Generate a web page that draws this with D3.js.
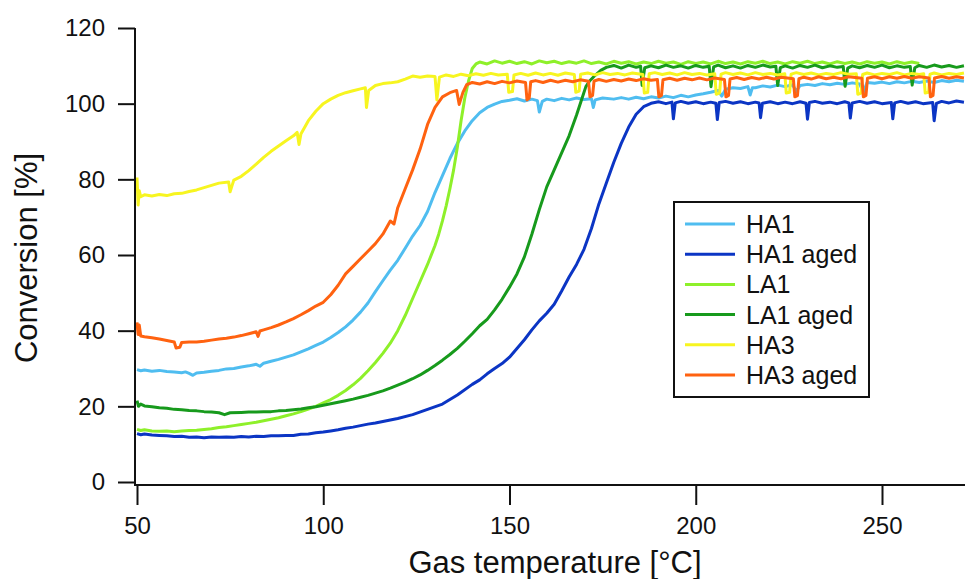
<!DOCTYPE html>
<html>
<head>
<meta charset="utf-8">
<script src="https://cdn.jsdelivr.net/npm/d3@7"></script>
<style>
  html, body { margin: 0; padding: 0; background: #fff; }
  svg { display: block; }
  text { font-family: "Liberation Sans", Arial, Helvetica, sans-serif; fill: #111; }
</style>
</head>
<body>
<svg id="chart" width="965" height="579"></svg>
<script>
// ---------------- data (temperature °C, conversion %) ----------------
const seriesNames = ["HA1", "HA1 aged", "LA1", "LA1 aged", "HA3", "HA3 aged"];
const seriesColors = ["#4fbdf0", "#0b35c4", "#8ef02a", "#179a1c", "#f7f520", "#ff6210"];
const xTicks = [50, 100, 150, 200, 250];
const yTicks = [0, 20, 40, 60, 80, 100, 120];

const ha1 = [[50,29.7],[51,29.4],[52,29.6],[54,29.3],[56,29.5],[58,29.2],[60,29.1],[62,28.9],[63,29.1],[64,28.7],[65,28.2],[66,28.8],[68,29.0],[70,29.3],[72,29.5],[74,29.9],[76,30.0],[78,30.4],[80,30.7],[82,31.1],[83,30.6],[84,31.4],[86,31.9],[88,32.4],[90,33.0],[92,33.6],[94,34.4],[96,35.2],[98,36.1],[100,37.0],[102,38.2],[104,39.5],[106,41.0],[108,42.8],[110,44.9],[112,47.3],[114,50.3],[116,53.2],[118,56.0],[120,58.6],[122,61.8],[124,65.0],[126,67.8],[128,71.5],[130,76.5],[132,81.0],[134,85.5],[136,89.5],[138,92.8],[140,95.5],[142,97.6],[144,99.0],[146,99.9],[148,100.6],[150,100.9],[152,101.3],[154,100.7],[156,101.2],[157.5,100.8],[158,97.8],[158.8,100.6],[160,101.2],[162,100.8],[164,101.4],[166,101.0],[168,101.5],[170,101.1],[172,101.3],[172.5,99.0],[173,101.0],[175,101.5],[178,101.2],[180,101.6],[182,101.2],[184,101.7],[186,101.3],[188,101.8],[190,101.5],[192,102.0],[194,101.6],[196,102.2],[198,101.8],[200,102.3],[202,102.6],[204,103.0],[206,103.5],[207,102.0],[208,103.8],[210,104.2],[212,104.0],[214,104.5],[214.6,102.3],[215.2,104.2],[216,104.2],[218,104.7],[220,104.4],[222,104.9],[224,104.5],[226,105.0],[227,103.2],[228,104.8],[230,105.1],[232,104.8],[234,105.3],[236,105.0],[238,105.4],[240,105.1],[242,105.5],[244,105.2],[245,103.0],[246,105.6],[248,105.4],[250,105.7],[252,105.3],[254,105.8],[256,105.5],[258,105.9],[260,105.6],[262,106.0],[264,105.6],[266,106.1],[268,105.8],[270,106.2],[272,105.9]];

const ha1Aged = [[50,12.8],[51,12.5],[52,12.7],[54,12.4],[56,12.3],[58,12.2],[60,12.0],[62,12.1],[64,11.8],[66,11.9],[68,11.7],[70,11.9],[72,11.8],[74,11.9],[76,11.8],[78,12.0],[80,11.9],[82,12.1],[84,12.0],[86,12.2],[88,12.2],[90,12.3],[92,12.3],[94,12.6],[96,12.7],[98,13.0],[100,13.2],[102,13.5],[104,13.8],[106,14.2],[108,14.5],[110,14.9],[112,15.3],[114,15.6],[116,16.0],[118,16.4],[120,16.8],[124,17.8],[128,19.2],[132,20.6],[136,23.0],[140,25.8],[142,27.0],[144,28.6],[146,30.0],[148,31.3],[150,33.0],[152,35.3],[154,37.6],[156,40.2],[158,42.6],[160,44.6],[162,47.0],[164,50.5],[166,54.2],[168,57.5],[170,61.5],[172,67.0],[174,73.5],[176,79.0],[178,84.5],[180,89.5],[182,93.8],[184,97.2],[186,99.2],[188,100.1],[190,100.5],[192,100.0],[193.6,100.4],[194.0,96.0],[194.5,100.2],[196,100.6],[198,100.1],[200,100.5],[202,100.0],[204,100.4],[205.4,100.1],[205.8,95.8],[206.3,100.3],[208,100.6],[210,100.1],[212,100.5],[214,100.0],[216,100.4],[217.0,100.2],[217.4,96.3],[217.9,100.1],[220,100.5],[222,100.0],[224,100.4],[226,100.0],[228,100.5],[229.6,100.1],[230.0,95.9],[230.5,100.3],[232,100.6],[234,100.1],[236,100.4],[238,100.0],[240,100.5],[241.1,100.2],[241.5,96.2],[242,100.2],[244,100.6],[246,100.1],[248,100.5],[250,100.0],[252.5,100.3],[252.9,96.0],[253.4,100.2],[255,100.6],[257,100.1],[259,100.5],[261,100.0],[263.6,100.3],[264.0,95.5],[264.6,100.1],[266,100.6],[268,100.2],[270,100.7],[272,100.4]];

const la1 = [[50,13.9],[51,13.6],[52,13.8],[54,13.5],[56,13.4],[58,13.5],[60,13.3],[62,13.5],[64,13.6],[66,13.7],[68,13.9],[70,14.1],[72,14.4],[74,14.6],[76,14.9],[78,15.2],[80,15.5],[82,15.8],[84,16.2],[86,16.6],[88,17.0],[90,17.5],[92,18.0],[94,18.6],[96,19.3],[98,20.0],[100,20.9],[102,21.8],[104,22.9],[106,24.2],[108,25.7],[110,27.4],[112,29.4],[114,31.6],[116,34.0],[118,36.7],[120,40.0],[122,44.0],[124,48.5],[126,53.0],[128,57.5],[130,62.5],[131,65.5],[132,69.0],[133,73.0],[134,77.5],[135,82.5],[136,88.5],[137,95.5],[138,101.5],[139,106.0],[140,109.3],[141,110.5],[142,111.0],[144,110.5],[146,111.3],[148,110.7],[150,111.2],[152,110.6],[154,111.1],[156,110.5],[158,111.3],[160,110.8],[162,111.2],[164,110.6],[166,111.1],[168,110.7],[170,111.3],[172,110.6],[174,111.0],[176,110.5],[178,111.2],[180,110.7],[182,111.1],[184,110.5],[186,111.0],[188,110.6],[190,111.2],[192,110.7],[194,111.0],[196,110.4],[198,111.1],[200,110.6],[202,111.0],[204,110.5],[206,111.2],[208,110.6],[210,111.0],[212,110.5],[214,111.1],[216,110.7],[218,111.2],[220,110.6],[222,111.0],[224,110.5],[226,111.1],[228,110.7],[230,111.2],[232,110.6],[234,111.0],[236,110.5],[238,111.1],[240,110.6],[242,111.0],[244,110.5],[246,111.1],[248,110.7],[250,111.0],[252,110.5],[254,111.1],[256,110.6],[258,111.0],[260,110.6]];

const la1Aged = [[50,21.5],[50.4,20.0],[51,20.6],[52,20.1],[54,19.9],[56,19.6],[58,19.5],[60,19.2],[62,19.1],[64,18.9],[66,18.8],[68,18.6],[70,18.5],[72,18.3],[73.5,17.8],[75,18.3],[78,18.4],[80,18.5],[82,18.5],[84,18.6],[86,18.6],[88,18.8],[90,18.9],[92,19.1],[94,19.3],[96,19.6],[98,19.9],[100,20.3],[102,20.7],[104,21.1],[106,21.5],[108,21.9],[110,22.4],[112,22.9],[114,23.5],[116,24.1],[118,24.8],[120,25.6],[122,26.4],[124,27.3],[126,28.3],[128,29.5],[130,30.8],[132,32.2],[134,33.7],[136,35.3],[138,37.2],[140,39.2],[142,41.3],[144,43.0],[146,45.5],[148,48.3],[150,51.5],[152,55.0],[154,59.5],[156,65.5],[158,72.0],[160,78.0],[162,82.5],[164,87.0],[166,91.5],[168,97.0],[169.5,101.5],[170.5,104.5],[171.5,106.0],[173,107.5],[174.5,108.8],[176,109.6],[178,110.1],[180,109.4],[182,110.2],[184,109.6],[185.2,109.9],[185.6,104.8],[186.3,109.5],[188,110.0],[190,109.5],[192,110.2],[194,109.6],[196,110.0],[198,109.4],[200,110.1],[202,109.6],[203.6,109.9],[204.1,104.5],[204.8,109.7],[206,110.2],[208,109.5],[210,110.0],[212,109.4],[214,110.1],[216,109.6],[218,110.2],[220,109.7],[221.5,109.9],[222,104.8],[222.7,109.5],[224,110.0],[226,109.4],[228,110.1],[230,109.6],[232,110.2],[234,109.5],[236,110.0],[238,109.6],[239.6,109.8],[240.1,104.6],[240.8,109.4],[242,110.0],[244,109.5],[246,110.1],[248,109.6],[250,110.2],[252,109.5],[254,110.0],[256,109.6],[257.6,109.8],[258.1,104.9],[258.8,109.5],[260,110.1],[262,109.6],[264,110.2],[266,109.7],[268,110.1],[270,109.6],[272,110.0]];

const ha3 = [[50,80.5],[50.3,73.2],[50.6,77.0],[51,75.4],[52,75.9],[54,75.6],[56,76.0],[58,75.7],[60,76.2],[62,76.3],[64,76.8],[66,77.2],[68,77.8],[70,78.4],[72,79.0],[74.6,79.3],[75,76.7],[75.6,78.6],[76,79.8],[78,80.8],[80,82.3],[82,84.0],[84,85.8],[86,87.4],[88,88.8],[90,90.2],[92,91.5],[93,92.4],[93.5,89.2],[94,92.0],[96,95.5],[98,98.0],[100,100.0],[102,101.2],[104,102.2],[106,102.9],[108,103.4],[110,103.9],[111.3,104.2],[111.6,99.0],[112.2,103.5],[114,104.8],[116,105.3],[118,105.5],[120,105.8],[122,106.5],[124,107.3],[126,107.0],[128,107.3],[130,107.2],[130.5,101.0],[131.2,107.0],[133,107.6],[135,107.2],[137,107.8],[139,107.4],[141,107.9],[143,107.5],[145,108.0],[147,107.6],[149.4,107.8],[149.8,103.0],[150.8,103.2],[151.2,107.6],[153,108.0],[155,107.5],[157,108.1],[159,107.6],[161,108.0],[163,107.5],[165,108.1],[167.4,107.7],[167.8,103.0],[168.7,103.3],[169.1,107.8],[171,108.1],[173,107.6],[175,108.2],[177,107.7],[179,108.0],[181,107.6],[183,108.1],[185.8,107.7],[186.2,102.8],[187.1,103.0],[187.5,107.9],[189,108.2],[191,107.7],[193,108.1],[195,107.6],[197,108.2],[199,107.7],[201,108.0],[203,107.6],[205.1,107.9],[205.5,102.5],[206.4,102.8],[206.8,107.8],[208,108.2],[210,107.7],[212,108.1],[214,107.6],[216,108.2],[218,107.7],[220,108.0],[222,107.6],[223.9,107.9],[224.3,102.8],[225.2,103.0],[225.6,107.8],[227,108.2],[229,107.7],[231,108.1],[233,107.6],[235,108.0],[237,107.7],[239,108.2],[241,107.8],[243.1,107.9],[243.5,102.5],[244.4,102.8],[244.8,107.7],[246,108.1],[248,107.6],[250,108.0],[252,107.7],[254,108.2],[256,107.6],[258,108.0],[260,107.7],[261.2,107.9],[261.6,102.8],[262.5,103.0],[262.9,107.8],[264,108.1],[266,107.6],[268,108.0],[270,107.7],[272,108.1]];

const ha3Aged = [[50,42.2],[50.3,39.0],[50.6,41.5],[51,38.6],[52,38.4],[54,38.1],[56,37.8],[58,37.4],[60,37.0],[60.5,35.4],[61.5,35.6],[62,36.9],[64,37.0],[66,37.0],[68,37.2],[70,37.5],[72,37.8],[74,38.0],[76,38.3],[78,38.7],[80,39.2],[82,39.7],[82.5,38.5],[83,39.9],[84,40.2],[86,40.8],[88,41.5],[90,42.3],[92,43.2],[94,44.2],[96,45.3],[98,46.5],[100,47.5],[102,49.5],[104,52.0],[106,55.0],[108,57.0],[110,59.0],[112,61.0],[114,63.0],[116,65.5],[118,69.0],[119,68.2],[120,72.5],[122,77.5],[124,82.5],[126,88.0],[128,94.5],[130,99.0],[132,101.8],[134,102.9],[135.8,103.5],[136.5,99.8],[137.5,103.0],[138.5,105.0],[140,105.6],[142,105.2],[144,105.8],[146,105.3],[148,105.9],[150,105.5],[152,106.0],[154.3,105.6],[154.7,101.0],[155.3,101.5],[155.7,105.8],[157,106.1],[159,105.6],[161,106.2],[163,105.7],[165,106.2],[167,105.8],[169,106.3],[171.2,105.9],[171.6,101.8],[172.3,102.2],[172.7,106.0],[174,106.4],[176,105.9],[178,106.4],[180,106.0],[182,106.5],[184,106.1],[186,106.6],[188,106.2],[189.7,106.4],[190.1,101.8],[190.8,102.2],[191.2,106.3],[193,106.7],[195,106.2],[197,106.7],[199,106.3],[201,106.8],[203,106.3],[205,106.8],[207.7,106.4],[208.1,101.8],[208.8,102.2],[209.2,106.5],[211,106.9],[213,106.4],[215,106.9],[217,106.5],[219,107.0],[221,106.5],[223,107.0],[226.2,106.6],[226.6,101.8],[227.3,102.1],[227.7,106.6],[229,107.0],[231,106.5],[233,107.1],[235,106.6],[237,107.0],[239,106.6],[241,107.1],[244.6,106.7],[245.0,101.8],[245.7,102.2],[246.1,106.7],[248,107.1],[250,106.6],[252,107.1],[254,106.7],[256,107.2],[258,106.7],[260,107.1],[262.6,106.8],[263.0,101.8],[263.7,102.2],[264.1,106.8],[266,107.2],[268,106.7],[270,107.1],[272,106.8]];

const seriesData = [ha1, ha1Aged, la1, la1Aged, ha3, ha3Aged];

// ---------------- drawing ----------------
const svg = d3.select("#chart");
svg.append("rect").attr("width", 965).attr("height", 579).attr("fill", "#fff");

const x = d3.scaleLinear().domain([50, 250]).range([137, 882]);
const y = d3.scaleLinear().domain([0, 120]).range([482, 28]);
const axisY0 = 485, axisX0 = 135;

const line = d3.line().x(d => x(d[0])).y(d => y(d[1]));

const plot = svg.append("g");
seriesData.forEach((s, i) => {
  plot.append("path")
    .datum(s)
    .attr("d", line)
    .attr("fill", "none")
    .attr("stroke", seriesColors[i])
    .attr("stroke-width", 3)
    .attr("stroke-linejoin", "round");
});

// axes
const xAxis = d3.axisBottom(x).tickValues(xTicks).tickSize(20).tickPadding(12).tickSizeOuter(0);
const gx = svg.append("g").attr("transform", `translate(0,${axisY0})`).call(xAxis);
gx.select(".domain").remove();
gx.selectAll(".tick line").attr("stroke", "#111").attr("stroke-width", 2);
gx.selectAll(".tick text").attr("font-size", 24).attr("fill", "#111")
  .attr("font-family", '"Liberation Sans", Arial, sans-serif');

const yAxis = d3.axisLeft(y).tickValues(yTicks).tickSize(17).tickPadding(13).tickSizeOuter(0);
const gy = svg.append("g").attr("transform", `translate(${axisX0},0)`).call(yAxis);
gy.select(".domain").remove();
gy.selectAll(".tick line").attr("stroke", "#111").attr("stroke-width", 2);
gy.selectAll(".tick text").attr("font-size", 24).attr("fill", "#111")
  .attr("font-family", '"Liberation Sans", Arial, sans-serif');

// axis lines
svg.append("line").attr("x1", axisX0).attr("x2", axisX0).attr("y1", y(120)).attr("y2", axisY0 + 1)
  .attr("stroke", "#111").attr("stroke-width", 2);
svg.append("line").attr("x1", axisX0 - 1).attr("x2", 965).attr("y1", axisY0).attr("y2", axisY0)
  .attr("stroke", "#111").attr("stroke-width", 2);

// axis titles
svg.append("text")
  .attr("transform", "translate(37,258) rotate(-90)")
  .attr("text-anchor", "middle")
  .attr("font-size", 31)
  .text("Conversion [%]");
svg.append("text")
  .attr("x", 555).attr("y", 573)
  .attr("text-anchor", "middle")
  .attr("font-size", 31)
  .text("Gas temperature [°C]");

// legend
const lg = svg.append("g");
lg.append("rect").attr("x", 674).attr("y", 202).attr("width", 195).attr("height", 195)
  .attr("fill", "#fff").attr("stroke", "#111").attr("stroke-width", 2);
seriesNames.forEach((name, i) => {
  const cy = 224 + i * 30.2;
  lg.append("line").attr("x1", 685).attr("x2", 735).attr("y1", cy).attr("y2", cy)
    .attr("stroke", seriesColors[i]).attr("stroke-width", 3);
  lg.append("text").attr("x", 746).attr("y", cy).attr("dy", "0.36em")
    .attr("font-size", 25).text(name);
});
</script>
</body>
</html>
